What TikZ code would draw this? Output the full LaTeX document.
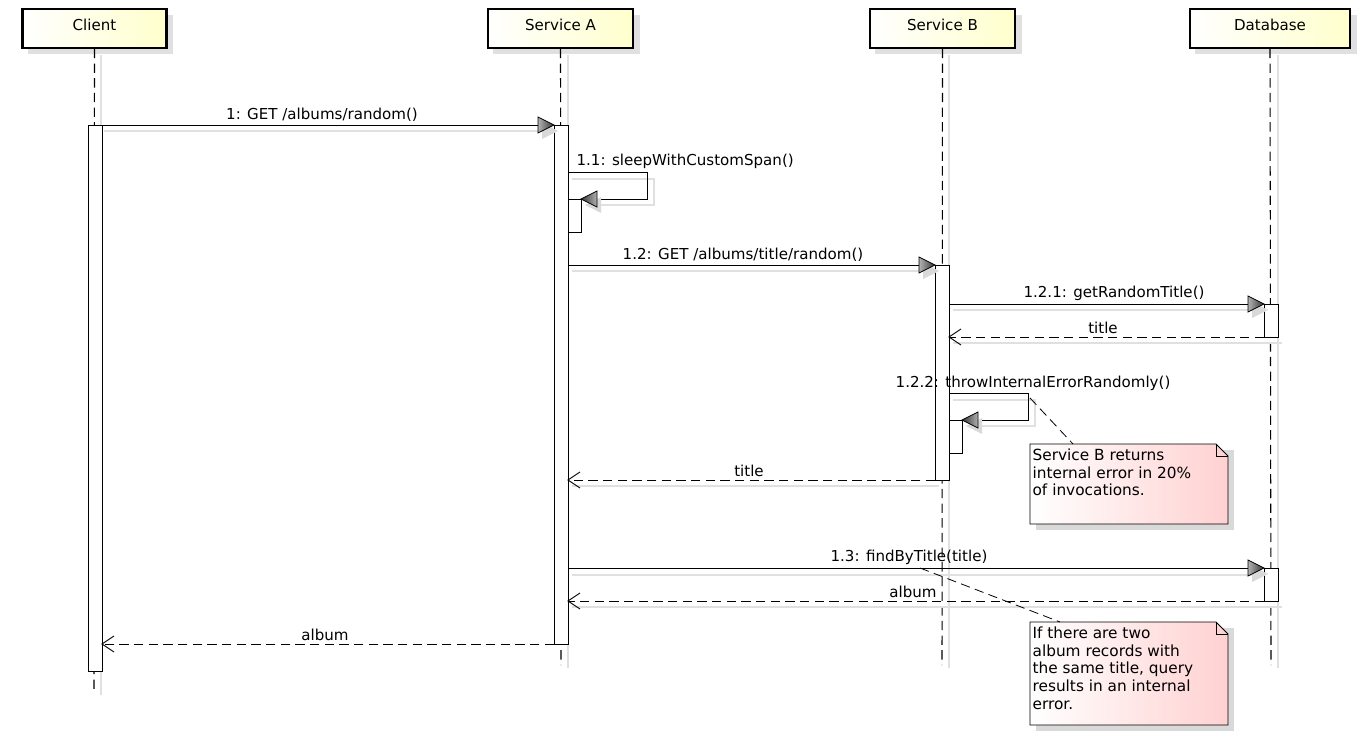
\documentclass[tikz,border=0pt]{standalone}
\usepackage{fontspec}
\setmainfont{DejaVu Sans}
\usetikzlibrary{shadings}
\begin{document}
\begin{tikzpicture}[x=0.75pt,y=-0.75pt,
  hdr/.style={draw=black,line width=1.6pt,left color=white,right color=yellow!20,minimum height=29pt,inner sep=0pt,text depth=5pt,font=\fontsize{11.3}{13}\selectfont},
  life/.style={dash pattern=on 7pt off 4pt,line width=0.8pt},
  act/.style={draw=black,fill=white,line width=0.6pt},
  lbl/.style={font=\fontsize{11.3}{13}\selectfont,inner sep=1pt},
  msg/.style={line width=0.7pt},
  ret/.style={line width=0.7pt,dash pattern=on 7pt off 4pt},
  shd/.style={draw=black!12,line width=1pt},
  note/.style={draw=black,line width=0.6pt,left color=white,right color=red!18},
  ntxt/.style={lbl,anchor=north west,align=left,font=\fontsize{11.5}{13.4}\selectfont},
]
\useasboundingbox (0,0) rectangle (1370,748);
% headers with shadows
\foreach \a/\b in {22/167,487/634,869/1016,1189/1351}{\fill[black!12] (\a+6,15) rectangle (\b+6,54);}
\node[hdr,minimum width=108pt] (hc) at (94.5,28.5) {Client};
\node[hdr,minimum width=109pt] (ha) at (560.5,28.5) {Service A};
\node[hdr,minimum width=109pt] (hb) at (942.5,28.5) {Service B};
\node[hdr,minimum width=120pt] (hd) at (1270,28.5) {Database};
% lifelines
\draw[black!12,line width=1pt] (101,55) -- (101,695) (568,55) -- (568,668) (949,55) -- (949,668) (1278,55) -- (1278,668);
\coordinate (cl) at (94,690); \coordinate (al) at (561,665); \coordinate (bl) at (942,665); \coordinate (dl) at (1271,665);
\draw[life] (hc.south) -- (cl); \draw[life] (ha.south) -- (al); \draw[life] (hb.south) -- (bl); \draw[life] (hd.south) -- (dl);
% activations
\draw[act] (88,125) rectangle (102,671);
\draw[act] (554,125) rectangle (568,644);
\draw[act] (568,199) rectangle (581,232);
\draw[act] (935,265) rectangle (949,480);
\draw[act] (949,420) rectangle (962,453);
\draw[act] (1264,304) rectangle (1278,337);
\draw[act] (1264,568) rectangle (1278,601);
% shadows of messages
\draw[shd] (104,131) -- (548,131);
\draw[shd] (572,179) -- (654,179) -- (654,205) -- (590,205);
\draw[shd] (572,271) -- (929,271);
\draw[shd] (953,310) -- (1258,310);
\draw[shd] (953,343) -- (1282,343);
\draw[shd] (953,400) -- (1035,400) -- (1035,426) -- (970,426);
\draw[shd] (572,486) -- (939,486);
\draw[shd] (572,575) -- (1258,575);
\draw[shd] (572,607) -- (1282,607);
% arrow tips
\newcommand{\tipR}[2]{\fill[black!15] (#1-12,#2-2) -- (#1-12,#2+14) -- (#1+4,#2+6)--cycle;
 \shade[draw=black,line width=0.6pt,left color=black!30,right color=black!80] (#1-16,#2-8) -- (#1-16,#2+8) -- (#1,#2) -- cycle;}
\newcommand{\tipL}[2]{\fill[black!15] (#1+20,#2-2) -- (#1+20,#2+14) -- (#1+4,#2+6)--cycle;
 \shade[draw=black,line width=0.6pt,left color=black!80,right color=black!30] (#1+16,#2-8) -- (#1+16,#2+8) -- (#1,#2) -- cycle;}
% messages
\coordinate (m1s) at (102,125); \coordinate (m1e) at (538,125);
\draw[msg] (m1s) -- (m1e); \tipR{554}{125}
\node[lbl,anchor=south] at (322,123) {1: GET /albums/random()};
\coordinate (s1a) at (568,172); \coordinate (s1b) at (647,172); \coordinate (s1c) at (647,199); \coordinate (s1d) at (597,199);
\draw[msg] (s1a) -- (s1b) -- (s1c) -- (s1d); \tipL{581}{199}
\node[lbl,anchor=south west] at (575,170) {1.1: sleepWithCustomSpan()};
\draw[msg] (568,265) -- (919,265); \tipR{935}{265}
\node[lbl,anchor=south] at (743,263) {1.2: GET /albums/title/random()};
\draw[msg] (949,304) -- (1248,304); \tipR{1264}{304}
\node[lbl,anchor=south] at (1114,302) {1.2.1: getRandomTitle()};
\draw[ret] (1264,337) -- (949,337); \draw[msg] (961,329) -- (949,337) -- (961,345);
\node[lbl,anchor=south] at (1103,335) {title};
\draw[msg] (949,393) -- (1028,393) -- (1028,420) -- (978,420); \tipL{962}{420}
\node[lbl,anchor=south] at (1033,392) {1.2.2: throwInternalErrorRandomly()};
\draw[ret] (935,480) -- (568,480); \draw[msg] (580,472) -- (568,480) -- (580,488);
\node[lbl,anchor=south] at (749,478) {title};
\draw[msg] (568,568) -- (1248,568); \tipR{1264}{568}
\node[lbl,anchor=south] at (909,566) {1.3: findByTitle(title)};
\draw[ret] (1264,601) -- (568,601); \draw[msg] (580,593) -- (568,601) -- (580,609);
\node[lbl,anchor=south] at (913,599) {album};
\draw[ret] (554,644) -- (102,644); \draw[msg] (114,636) -- (102,644) -- (114,652);
\node[lbl,anchor=south] at (325,642) {album};
% notes
\newcommand{\note}[4]{\fill[black!15] (#1+6,#2+6) rectangle (#3+6,#4+6);
 \shade[note] (#1,#2) -- (#3-12,#2) -- (#3,#2+12) -- (#3,#4) -- (#1,#4) -- cycle;
 \draw[line width=0.6pt] (#3-12,#2) -- (#3-12,#2+12) -- (#3,#2+12);}
\note{1030}{444}{1228}{524}
\node[ntxt] (t1) at (1031,447) {Service B returns\\internal error in 20\%\\of invocations.};
\coordinate (c1) at (1030,398); \coordinate (c1e) at (1073,444);
\draw[ret,line width=0.6pt] (c1) -- (c1e);
\note{1030}{622}{1228}{725}
\node[ntxt] (t2) at (1031,625) {If there are two\\album records with\\the same title, query\\results in an internal\\error.};
\coordinate (c2) at (920,568); \coordinate (c2e) at (1060,622);
\draw[ret,line width=0.6pt] (c2) -- (c2e);
\end{tikzpicture}
\end{document}
